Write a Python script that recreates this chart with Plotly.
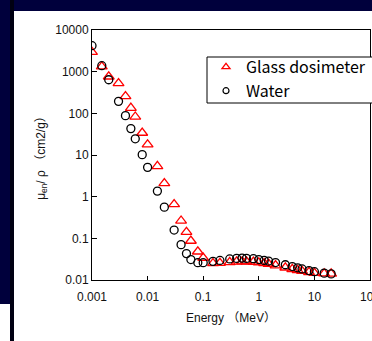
import plotly.graph_objects as go

energy = [0.001, 0.0015, 0.002, 0.003, 0.004, 0.005, 0.006, 0.008, 0.01, 0.015,
          0.02, 0.03, 0.04, 0.05, 0.06, 0.08, 0.1, 0.15, 0.2, 0.3, 0.4, 0.5, 0.6,
          0.8, 1.0, 1.25, 1.5, 2.0, 3.0, 4.0, 5.0, 6.0, 8.0, 10.0, 15.0, 20.0]

glass = [2950, 1330, 760, 525, 256, 135, 83, 34, 17.8, 5.4,
         2.1, 0.655, 0.265, 0.142, 0.087, 0.048, 0.034, 0.0252, 0.0256, 0.0268,
         0.0275, 0.0277, 0.0276, 0.0272, 0.0262, 0.0252, 0.0244, 0.0224, 0.0198,
         0.0182, 0.0172, 0.0164, 0.0154, 0.0147, 0.0143, 0.0142]

water = [4200, 1390, 640, 194, 88, 43, 24.5, 10.2, 5.05, 1.36,
         0.56, 0.158, 0.0705, 0.043, 0.031, 0.026, 0.026, 0.028, 0.0295, 0.032,
         0.033, 0.0335, 0.033, 0.0325, 0.031, 0.0295, 0.0285, 0.0262, 0.0232,
         0.021, 0.0196, 0.0184, 0.0168, 0.0158, 0.0146, 0.014]

x_ticks = [0.001, 0.01, 0.1, 1, 10, 100]
x_ticktext = ["0.001", "0.01", "0.1", "1", "10", "100"]
y_ticks = [0.01, 0.1, 1, 10, 100, 1000, 10000]
y_ticktext = ["0.01", "0.1", "1", "10", "100", "1000", "10000"]

OFF = 4                      # vertical offset seen in the capture
W, H = 372, 341 + OFF
ML, MR, MT, MB = 92, 2, 26 + OFF, 65
PW = W - ML - MR
PH = H - MT - MB

def px_x(p):
    return (p - ML) / PW

def px_y(p):
    return (H - MB - (p + OFF)) / PH

fig = go.Figure()
fig.add_trace(go.Scatter(
    x=energy, y=glass, mode="markers", name="Glass dosimeter", showlegend=False,
    marker=dict(symbol="triangle-up-open", size=9.5, color="#ff0000",
                line=dict(width=1.3, color="#ff0000"))))
fig.add_trace(go.Scatter(
    x=energy, y=water, mode="markers", name="Water", showlegend=False,
    marker=dict(symbol="circle-open", size=8, color="#000000",
                line=dict(width=1.3, color="#000000"))))
# legend entries
fig.add_trace(go.Scatter(
    x=[None], y=[None], mode="markers", name="Glass dosimeter",
    marker=dict(symbol="triangle-up-open", size=7, color="#ff0000",
                line=dict(width=1.3, color="#ff0000"))))
fig.add_trace(go.Scatter(
    x=[None], y=[None], mode="markers", name="Water",
    marker=dict(symbol="circle-open", size=6, color="#000000",
                line=dict(width=1.2, color="#000000"))))

font_main = "Liberation Sans, Arial, Noto Sans CJK JP, sans-serif"

fig.update_layout(
    width=W, height=H,
    margin=dict(l=ML, r=MR, t=MT, b=MB, pad=0, autoexpand=False),
    paper_bgcolor="white", plot_bgcolor="white",
    font=dict(family=font_main, size=12, color="#111111"),
    showlegend=True,
    legend=dict(x=px_x(206), y=px_y(46), xanchor="left", yanchor="top",
                borderwidth=0, bgcolor="rgba(0,0,0,0)",
                font=dict(size=16, color="#000000", family="Noto Sans CJK JP, sans-serif"),
                itemwidth=30, tracegroupgap=0),
    xaxis=dict(type="log", range=[-3, 2], tickvals=x_ticks, ticktext=x_ticktext,
               showgrid=False, zeroline=False, showline=True, linecolor="#000000",
               linewidth=1, mirror=True, ticks="inside", ticklen=4,
               tickcolor="#000000", tickfont=dict(size=12, color="#111111"),
               ticklabeloverflow="allow", ticklabelstandoff=6,
               title=dict(text="Energy （MeV）", font=dict(size=12), standoff=10)),
    yaxis=dict(type="log", range=[-2, 4], tickvals=y_ticks, ticktext=y_ticktext,
               showgrid=False, zeroline=False, showline=True, linecolor="#000000",
               linewidth=1, mirror=True, ticks="inside", ticklen=5,
               tickcolor="#000000", tickfont=dict(size=12, color="#111111"),
               ticklabeloverflow="allow",
               title=dict(text="μ<sub>en</sub>/ ρ （cm2/g）", font=dict(size=12),
                          standoff=7)),
    shapes=[
        dict(type="rect", xref="paper", yref="paper", layer="below",
             x0=px_x(0), x1=px_x(W + 2), y0=px_y(-OFF), y1=px_y(7),
             fillcolor="#00003c", line=dict(width=0)),
        dict(type="rect", xref="paper", yref="paper", layer="below",
             x0=px_x(0), x1=px_x(10), y0=px_y(-OFF), y1=px_y(300),
             fillcolor="#00003c", line=dict(width=0)),
        dict(type="rect", xref="paper", yref="paper", layer="below",
             x0=px_x(10), x1=px_x(14), y0=px_y(-OFF), y1=px_y(339),
             fillcolor="#000012", line=dict(width=0)),
        # legend box
        dict(type="rect", xref="paper", yref="paper", layer="above",
             x0=px_x(207), x1=px_x(W + 10), y0=px_y(99), y1=px_y(53),
             fillcolor="white", line=dict(width=1, color="#000000")),
    ],
)

fig.write_html(
    "out.html",
    config={"displayModeBar": False, "staticPlot": True},
    post_script=("document.documentElement.style.margin='0';"
                 "document.body.style.margin='0';document.body.style.padding='0';"
                 "document.documentElement.style.overflow='hidden';"
                 "document.body.style.overflow='hidden';"
                 "var g=document.getElementsByClassName('plotly-graph-div')[0];"
                 "g.style.position='fixed';g.style.top='0px';g.style.left='0px';"
                 "window.scrollTo(0,0);"),
)
